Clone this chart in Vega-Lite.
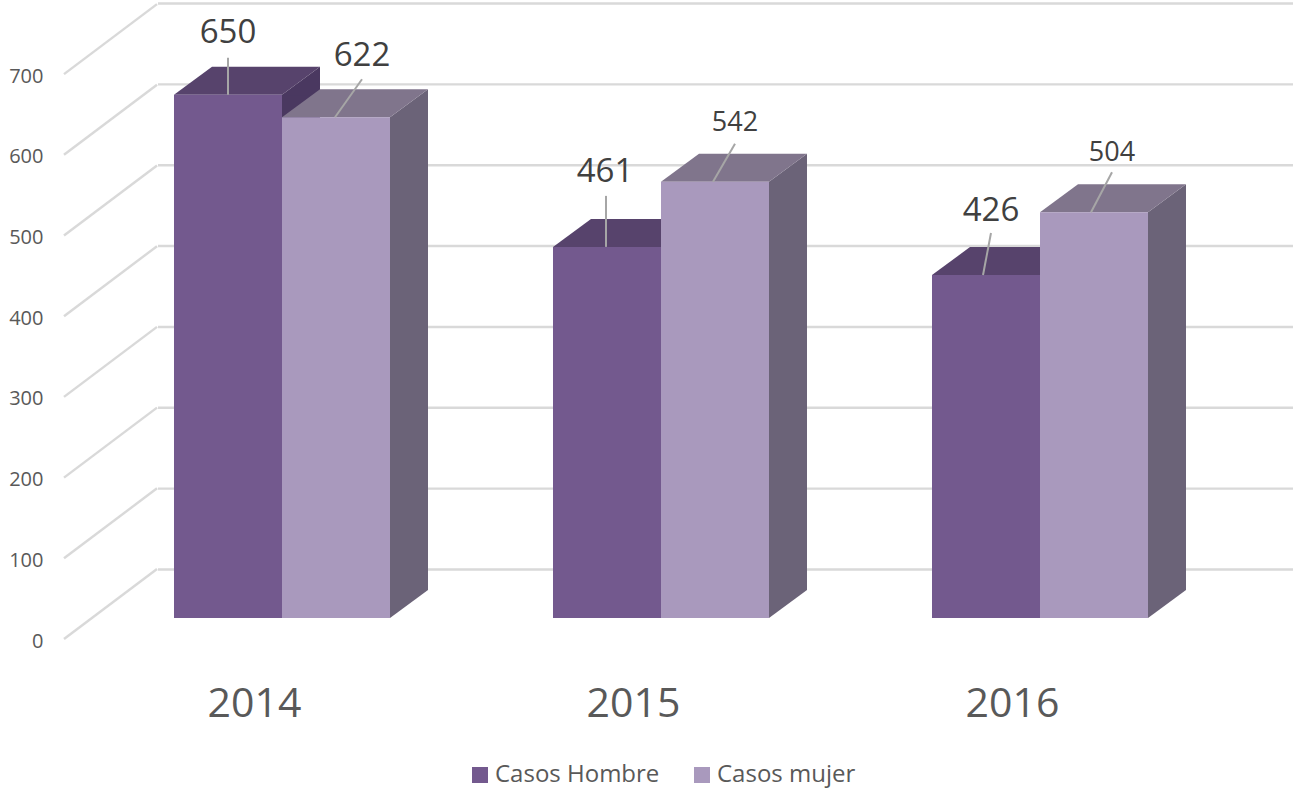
{
"$schema":"https://vega.github.io/schema/vega-lite/v6.json",
"width":1137,"height":660,
"autosize":{"type":"none"},
"padding":{"left":92.5,"top":0,"right":63.5,"bottom":134},
"background":"#ffffff",
"config":{"view":{"stroke":null},"font":"Open Sans"},
"datasets":{
"casos":[
{"anio":"2014","serie":"Casos Hombre","valor":650},
{"anio":"2014","serie":"Casos mujer","valor":622},
{"anio":"2015","serie":"Casos Hombre","valor":461},
{"anio":"2015","serie":"Casos mujer","valor":542},
{"anio":"2016","serie":"Casos Hombre","valor":426},
{"anio":"2016","serie":"Casos mujer","valor":504}],
"rejilla":[{"v":0},{"v":100},{"v":200},{"v":300},{"v":400},{"v":500},{"v":600},{"v":700}]
},
"data":{"name":"casos"},
"resolve":{"scale":{"y":"independent","fill":"independent"}},
"layer":[
{"data":{"name":"rejilla"},
 "mark":{"type":"point","shape":"M-124,0L1011,0","size":4,"filled":false,"stroke":"#d9d9d9","strokeWidth":2.4,"opacity":1},
 "encoding":{
  "x":{"datum":"2014","type":"nominal","axis":{"title":null,"domain":false,"ticks":false,"labelAngle":0,"labelFontSize":41,"labelColor":"#595959","labelFont":"Open Sans","labelOffset":-27.5,"labelPadding":24},"scale":{"domain":["2014","2015","2016"],"paddingInner":0,"paddingOuter":0}},
  "y":{"field":"v","type":"quantitative","axis":null,"scale":{"domain":[-111.9,704.3],"nice":false,"zero":false}}}},
{"data":{"name":"rejilla"},
 "mark":{"type":"point","shape":"M-218,-2L-125,-72","size":4,"filled":false,"stroke":"#d9d9d9","strokeWidth":2.4,"opacity":1},
 "encoding":{
  "x":{"datum":"2014","type":"nominal"},
  "y":{"field":"v","type":"quantitative","title":null,
   "scale":{"domain":[-23.54,794.3],"nice":false,"zero":false},
   "axis":{"values":[0,100,200,300,400,500,600,700],"orient":"left","grid":false,"domain":false,"ticks":false,"labelPadding":49.5,"labelFontSize":20,"labelColor":"#595959","labelFont":"Open Sans"}}}},
{"transform":[{"filter":"datum.serie=='Casos Hombre'"}],
 "mark":{"type":"bar","width":38,"xOffset":19,"color":"#4a3860"},
 "encoding":{
  "x":{"field":"anio","type":"nominal"},
  "y":{"field":"valor","type":"quantitative","axis":null,"scale":{"domain":[-52.2,767.7],"nice":false,"zero":false}},
  "y2":{"datum":34.8}}},
{"transform":[{"filter":"datum.serie=='Casos mujer'"}],
 "mark":{"type":"bar","width":38,"xOffset":127,"color":"#6b6378"},
 "encoding":{
  "x":{"field":"anio","type":"nominal"},
  "y":{"field":"valor","type":"quantitative","axis":null,"scale":{"domain":[-52.2,767.7],"nice":false,"zero":false}},
  "y2":{"datum":34.8}}},
{"mark":{"type":"point","shape":"M54,0L92,-28L92,1L54,1Z","size":4,"filled":true,"opacity":1,"strokeWidth":0},
 "encoding":{
  "x":{"field":"anio","type":"nominal"},
  "xOffset":{"field":"serie","type":"nominal","scale":{"paddingInner":0,"paddingOuter":0.7546}},
  "y":{"field":"valor","type":"quantitative","axis":null,"scale":{"domain":[-52.2,767.7],"nice":false,"zero":false}},
  "fill":{"field":"serie","type":"nominal","legend":null,"scale":{"range":["#4a3860","#6b6378"]}}}},
{"mark":{"type":"point","shape":"M54,0L92,-28L92,-29L54,-29Z","size":4,"filled":true,"opacity":1,"strokeWidth":0},
 "encoding":{
  "x":{"field":"anio","type":"nominal"},
  "xOffset":{"field":"serie","type":"nominal"},
  "y":{"datum":0,"type":"quantitative","axis":null,"scale":{"domain":[-52.2,767.7],"nice":false,"zero":false}},
  "fill":{"field":"serie","type":"nominal","legend":null,"scale":{"range":["#4a3860","#6b6378"]}}}},
{"mark":{"type":"point","shape":"M-54,0L54,0L92,-28L-16,-28Z","size":4,"filled":true,"opacity":1,"strokeWidth":0},
 "encoding":{
  "x":{"field":"anio","type":"nominal"},
  "xOffset":{"field":"serie","type":"nominal"},
  "y":{"field":"valor","type":"quantitative","axis":null,"scale":{"domain":[-52.2,767.7],"nice":false,"zero":false}},
  "fill":{"field":"serie","type":"nominal","legend":null,"scale":{"range":["#57436c","#80758c"]}}}},
{"mark":{"type":"bar"},
 "encoding":{
  "x":{"field":"anio","type":"nominal"},
  "xOffset":{"field":"serie","type":"nominal"},
  "y":{"field":"valor","type":"quantitative","axis":null,"scale":{"domain":[-52.2,767.7],"nice":false,"zero":false}},
  "y2":{"datum":0},
  "color":{"field":"serie","type":"nominal","scale":{"range":["#73598e","#a999bd"]},
   "legend":{"title":null,"orient":"none","direction":"horizontal","columns":2,"legendX":375.5,"legendY":763,"symbolType":"square","symbolSize":256,"symbolStrokeWidth":0,"symbolOpacity":1,"labelFontSize":24,"labelLimit":300,"labelColor":"#595959","labelFont":"Open Sans","labelOffset":3,"columnPadding":30,"padding":0}}}},
{"mark":{"type":"point","size":4,"filled":false,"stroke":"#a6a6a6","strokeWidth":2,"opacity":1},
 "encoding":{
  "x":{"field":"anio","type":"nominal"},
  "xOffset":{"field":"serie","type":"nominal"},
  "y":{"field":"valor","type":"quantitative","axis":null,"scale":{"domain":[-52.2,767.7],"nice":false,"zero":false}},
  "shape":{"field":"valor","type":"nominal","legend":null,"scale":{"domain":[650,622,461,542,426,504],"range":["M0,0L0,-37","M-1,0L26,-38","M-1,0L-1,-51","M-2,0L20,-38","M-3,0L5,-42","M-3,0L18,-40"]}}}},
{"transform":[{"filter":"datum.valor==650"}],
 "mark":{"type":"text","fontSize":33,"color":"#404040","dx":0,"dy":-61.5,"baseline":"middle"},
 "encoding":{"x":{"field":"anio","type":"nominal"},"xOffset":{"field":"serie","type":"nominal"},"y":{"field":"valor","type":"quantitative","axis":null,"scale":{"domain":[-52.2,767.7],"nice":false,"zero":false}},"text":{"field":"valor","type":"quantitative"}}},
{"transform":[{"filter":"datum.valor==622"}],
 "mark":{"type":"text","fontSize":33,"color":"#404040","dx":26,"dy":-61,"baseline":"middle"},
 "encoding":{"x":{"field":"anio","type":"nominal"},"xOffset":{"field":"serie","type":"nominal"},"y":{"field":"valor","type":"quantitative","axis":null,"scale":{"domain":[-52.2,767.7],"nice":false,"zero":false}},"text":{"field":"valor","type":"quantitative"}}},
{"transform":[{"filter":"datum.valor==461"}],
 "mark":{"type":"text","fontSize":33,"color":"#404040","dx":-2,"dy":-75,"baseline":"middle"},
 "encoding":{"x":{"field":"anio","type":"nominal"},"xOffset":{"field":"serie","type":"nominal"},"y":{"field":"valor","type":"quantitative","axis":null,"scale":{"domain":[-52.2,767.7],"nice":false,"zero":false}},"text":{"field":"valor","type":"quantitative"}}},
{"transform":[{"filter":"datum.valor==542"}],
 "mark":{"type":"text","fontSize":27,"color":"#404040","dx":20,"dy":-59,"baseline":"middle"},
 "encoding":{"x":{"field":"anio","type":"nominal"},"xOffset":{"field":"serie","type":"nominal"},"y":{"field":"valor","type":"quantitative","axis":null,"scale":{"domain":[-52.2,767.7],"nice":false,"zero":false}},"text":{"field":"valor","type":"quantitative"}}},
{"transform":[{"filter":"datum.valor==426"}],
 "mark":{"type":"text","fontSize":33,"color":"#404040","dx":5,"dy":-64,"baseline":"middle"},
 "encoding":{"x":{"field":"anio","type":"nominal"},"xOffset":{"field":"serie","type":"nominal"},"y":{"field":"valor","type":"quantitative","axis":null,"scale":{"domain":[-52.2,767.7],"nice":false,"zero":false}},"text":{"field":"valor","type":"quantitative"}}},
{"transform":[{"filter":"datum.valor==504"}],
 "mark":{"type":"text","fontSize":27,"color":"#404040","dx":18,"dy":-59,"baseline":"middle"},
 "encoding":{"x":{"field":"anio","type":"nominal"},"xOffset":{"field":"serie","type":"nominal"},"y":{"field":"valor","type":"quantitative","axis":null,"scale":{"domain":[-52.2,767.7],"nice":false,"zero":false}},"text":{"field":"valor","type":"quantitative"}}}
]
}
